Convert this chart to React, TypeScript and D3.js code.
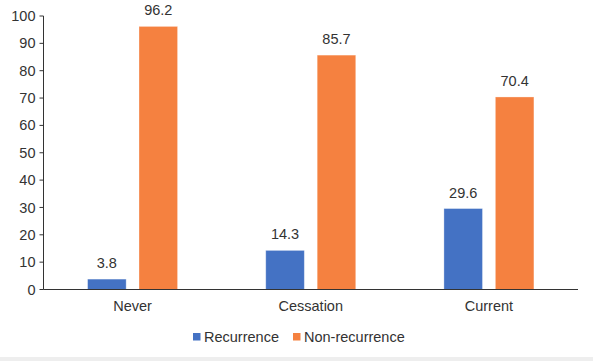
import React from 'react';
import * as d3 from 'd3';

const categories = ['Never', 'Cessation', 'Current'];
const seriesNames = ['Recurrence', 'Non-recurrence'];
const recurrence = [3.8, 14.3, 29.6];
const nonRecurrence = [96.2, 85.7, 70.4];
const yTicks = [0, 10, 20, 30, 40, 50, 60, 70, 80, 90, 100];

const colors = ['#4472C4', '#F58140'];
const font = '"Liberation Sans", Arial, sans-serif';

const App = () => {
  const width = 593;
  const height = 361;
  const left = 43.5;
  const right = 578;
  const top = 16;
  const bottom = 289.5;

  const x = d3.scaleBand().domain(categories).range([left, right]).paddingInner(0).paddingOuter(0);
  const inner = d3.scaleBand().domain(seriesNames).range([0, 90]).paddingInner(0.25).paddingOuter(0);
  const y = d3.scaleLinear().domain([0, 100]).range([bottom, top]);
  const values = [recurrence, nonRecurrence];

  return (
    <div style={{ position: 'absolute', left: 0, top: 0 }}>
      <svg width={width} height={height} style={{ display: 'block', background: '#fff' }}>
        <rect x={0} y={357} width={width} height={4} fill='#eeeeee' />
        {/* y axis */}
        <line x1={left} x2={left} y1={top} y2={bottom} stroke='#333' strokeWidth={1} />
        {yTicks.map((t) => (
          <g key={t}>
            <line x1={left - 4} x2={left} y1={y(t)} y2={y(t)} stroke='#333' />
            <text x={left - 8} y={y(t)} dy='0.35em' textAnchor='end' fontFamily={font} fontSize={14.5} fill='#333'>
              {t}
            </text>
          </g>
        ))}
        {/* bars */}
        {categories.map((c, i) => {
          const x0 = (x(c) as number) + x.bandwidth() / 2 - 45;
          return (
            <g key={c}>
              {seriesNames.map((s, j) => {
                const v = values[j][i];
                const bx = x0 + (inner(s) as number);
                return (
                  <g key={s}>
                    <rect
                      x={bx}
                      y={y(v)}
                      width={inner.bandwidth()}
                      height={bottom - y(v)}
                      fill={colors[j]}
                      stroke='#fff'
                      strokeOpacity={0.4}
                      strokeWidth={0.8}
                    />
                    <text
                      x={bx + inner.bandwidth() / 2}
                      y={y(v) - 11}
                      textAnchor='middle'
                      fontFamily={font}
                      fontSize={14.5}
                      fill='#333'
                    >
                      {v}
                    </text>
                  </g>
                );
              })}
              <text
                x={(x(c) as number) + x.bandwidth() / 2}
                y={311}
                textAnchor='middle'
                fontFamily={font}
                fontSize={14.5}
                fill='#333'
              >
                {c}
              </text>
            </g>
          );
        })}
        {/* x axis */}
        <line x1={left} x2={right} y1={bottom} y2={bottom} stroke='#333' strokeWidth={1.2} />
        {/* legend */}
        {seriesNames.map((s, j) => {
          const lx = j === 0 ? 193 : 293;
          return (
            <g key={s}>
              <rect x={lx} y={333} width={7.5} height={7.5} fill={colors[j]} />
              <text x={lx + 11} y={341.5} fontFamily={font} fontSize={14.5} fill='#333'>
                {s}
              </text>
            </g>
          );
        })}
      </svg>
    </div>
  );
};

export default App;
